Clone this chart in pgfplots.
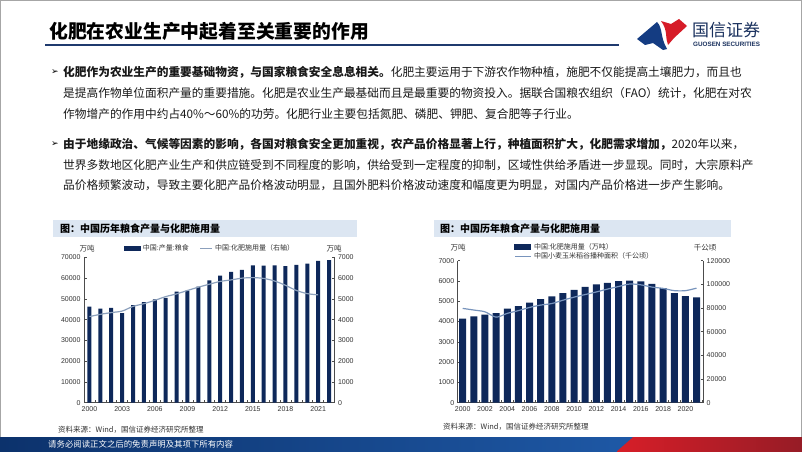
\documentclass[border=0pt]{standalone}
\usepackage{fontspec}
\usepackage{pgfplots}
\pgfplotsset{compat=1.18}
\setmainfont{Noto Sans CJK SC}
\newfontfamily\lib{Liberation Sans}
\newfontfamily\dejavu{DejaVu Sans}
\XeTeXlinebreaklocale "zh"
\XeTeXlinebreakskip=0pt plus 4pt
\definecolor{navy}{RGB}{14,40,90}
\definecolor{lineA}{RGB}{140,160,188}
\definecolor{lineB}{RGB}{120,148,188}
\definecolor{titlebox}{RGB}{220,230,242}
\definecolor{hdrline}{RGB}{31,58,110}
\definecolor{footA}{RGB}{12,50,108}
\definecolor{footB}{RGB}{30,88,165}
\definecolor{redA}{RGB}{215,30,40}
\definecolor{redB}{RGB}{150,28,38}
\definecolor{logored}{RGB}{214,28,40}
\definecolor{logoblue}{RGB}{20,60,130}
\definecolor{txt}{RGB}{25,25,25}
\definecolor{ticktxt}{RGB}{50,50,50}
\pgfplotsset{
  base/.style={
    scale only axis, anchor=south west,
    /pgf/number format/fixed,
    /pgf/number format/assume math mode=true,
    /pgf/number format/1000 sep={},
    scaled y ticks=false,
    tick label style={font=\lib\fontsize{7}{8}\selectfont, text=ticktxt},
    axis line style={-, draw=black!70, line width=0.5pt},
    tick style={draw=black!70, line width=0.5pt},
    tick align=inside, major tick length=2.5pt, minor tick length=2.5pt,
    clip=false,
  },
}
\newcommand\bodyline[3]{\node[anchor=west, inner sep=0, font=\fontsize{11.7}{13}\selectfont, text=txt] at (#1,#2) {#3};}
\begin{document}
\begin{tikzpicture}
\path[use as bounding box] (0,0) rectangle (802pt,451pt);
\fill[white] (0,0) rectangle (802pt,451pt);
\begin{scope}[x=1pt,y=-1pt,yshift=451pt]
\draw[black!35, line width=0.8pt] (0.4,0.4) rectangle (801.6,450.6);
% header
\node[anchor=west, inner sep=0, font=\fontsize{18.8}{20}\selectfont\bfseries, text=black] at (49,31) {化肥在农业生产中起着至关重要的作用};
\fill[hdrline] (45,44) rectangle (619,46.5);
% logo
\fill[logoblue] (637,39) -- (657,22) .. controls (663,28) and (660,37) .. (667,49) -- (663,50) -- (653,43) -- (645,45) -- cycle;
\fill[logored] (661,21) -- (671,24) -- (679,19) -- (687,26) -- (674,38) -- (668,45) .. controls (665,38) and (668,30) .. (661,21) -- cycle;
\node[anchor=west, inner sep=0, font=\fontsize{17}{18}\selectfont, text=hdrline!85!black] at (692,30.5) {国信证券};
\node[anchor=west, inner sep=0, font=\lib\bfseries\fontsize{6.3}{7}\selectfont, text=hdrline!85!black] at (693,44) {GUOSEN SECURITIES};
% bullets
\node[anchor=west, inner sep=0, font=\dejavu\fontsize{9}{10}\selectfont] at (51,72.5) {➢};
\bodyline{63}{72.5}{\hbox to 689pt{\textbf{化肥作为农业生产的重要基础物资，与国家粮食安全息息相关。}化肥主要运用于下游农作物种植，施肥不仅能提高土壤肥力，而且也}}
\bodyline{63}{93.3}{\hbox to 689pt{是提高作物单位面积产量的重要措施。化肥是农业生产最基础而且是最重要的物资投入。据联合国粮农组织（FAO）统计，化肥在对农}}
\bodyline{63}{114.2}{作物增产的作用中约占40\%～60\%的功劳。化肥行业主要包括氮肥、磷肥、钾肥、复合肥等子行业。}
\node[anchor=west, inner sep=0, font=\dejavu\fontsize{9}{10}\selectfont] at (51,144) {➢};
\bodyline{63}{144}{\hbox to 689pt{\textbf{由于地缘政治、气候等因素的影响，各国对粮食安全更加重视，农产品价格显著上行，种植面积扩大，化肥需求增加，}2020年以来，}}
\bodyline{63}{164.7}{\hbox to 689pt{世界多数地区化肥产业生产和供应链受到不同程度的影响，供给受到一定程度的抑制，区域性供给矛盾进一步显现。同时，大宗原料产}}
\bodyline{63}{185.3}{品价格频繁波动，导致主要化肥产品价格波动明显，且国外肥料价格波动速度和幅度更为明显，对国内产品价格进一步产生影响。}
% chart title boxes
\fill[titlebox] (53,220) rectangle (357,237);
\node[anchor=west, inner sep=0, font=\fontsize{10}{11}\selectfont\bfseries] at (60,228.5) {图：中国历年粮食产量与化肥施用量};
\fill[titlebox] (434,220) rectangle (731,237);
\node[anchor=west, inner sep=0, font=\fontsize{10}{11}\selectfont\bfseries] at (440,228.5) {图：中国历年粮食产量与化肥施用量};
% units
\node[inner sep=0, font=\fontsize{7.5}{8}\selectfont, text=ticktxt] at (87,249) {万吨};
\node[inner sep=0, font=\fontsize{7.5}{8}\selectfont, text=ticktxt] at (334,249) {万吨};
\node[inner sep=0, font=\fontsize{7.5}{8}\selectfont, text=ticktxt] at (458,248) {万吨};
\node[inner sep=0, font=\fontsize{7.5}{8}\selectfont, text=ticktxt] at (705,248) {千公顷};
% sources
\node[anchor=west, inner sep=0, font=\fontsize{7.5}{8}\selectfont, text=ticktxt] at (58,430) {资料来源：Wind，国信证券经济研究所整理};
\node[anchor=west, inner sep=0, font=\fontsize{7.5}{8}\selectfont, text=ticktxt] at (443,427) {资料来源：Wind，国信证券经济研究所整理};
% footer
\shade[left color=footA, right color=footB] (0,437) rectangle (633,451);
\shade[left color=redA, right color=redB] (617,437) rectangle (802,451);
\fill[footB] (610,437) -- (633,437) -- (617,451) -- (610,451) -- cycle;
\node[anchor=west, inner sep=0, font=\fontsize{8.4}{9}\selectfont, text=white] at (48,444) {请务必阅读正文之后的免责声明及其项下所有内容};
\end{scope}

% ---------- chart 1 ----------
\begin{axis}[base, at={(84pt,48.3pt)}, width=250.5pt, height=145.4pt,
  xmin=1999.5, xmax=2022.5, ymin=0, ymax=70000,
  axis x line*=bottom, axis y line*=left,
  ytick={0,10000,...,70000},
  xtick={2000,2003,...,2021},
  minor xtick={1999.5,2000.5,...,2022.5},
  major x tick style={draw=none},
  legend style={at={(0.503,1.059)}, anchor=center, legend columns=2, draw=none, fill=none,
    font=\fontsize{7}{8}\selectfont, text=ticktxt,
    /tikz/every even column/.append style={column sep=9pt}},
  ]
\addplot[ybar, bar width=4pt, fill=navy, draw=none,
  legend image code/.code={\fill[navy] (0pt,-2.5pt) rectangle (17pt,2.5pt);}]
coordinates {(2000,46218)(2001,45264)(2002,45706)(2003,43070)(2004,46947)(2005,48402)
(2006,49804)(2007,50414)(2008,53434)(2009,53941)(2010,55911)(2011,58849)(2012,61223)
(2013,63048)(2014,63965)(2015,66060)(2016,66044)(2017,66161)(2018,65789)(2019,66384)
(2020,66949)(2021,68285)(2022,68653)};
\addlegendentry{中国:产量:粮食}
\addlegendimage{legend image code/.code={\draw[lineA, line width=1.2pt] (0pt,0pt) -- (12pt,0pt);}}
\addlegendentry{中国:化肥施用量（右轴）}
\end{axis}
\begin{axis}[base, at={(84pt,48.3pt)}, width=250.5pt, height=145.4pt,
  xmin=1999.5, xmax=2022.5, ymin=0, ymax=7000,
  axis x line=none, axis y line*=right,
  ytick={0,1000,...,7000},
  ]
\addplot[smooth, lineA, line width=1.2pt] coordinates {(2000,4146)(2001,4254)(2002,4339)
(2003,4412)(2004,4637)(2005,4766)(2006,4928)(2007,5108)(2008,5239)(2009,5404)(2010,5562)
(2011,5704)(2012,5839)(2013,5912)(2014,5996)(2015,6023)(2016,5984)(2017,5859)(2018,5653)
(2019,5404)(2020,5251)(2021,5191)};
\end{axis}

% ---------- chart 2 ----------
\begin{axis}[base, at={(457.7pt,48.3pt)}, width=245.5pt, height=142pt,
  xmin=1999.55, xmax=2021.6, ymin=0, ymax=7000,
  axis x line*=bottom, axis y line*=left,
  ytick={0,1000,...,7000},
  xtick={2000,2002,...,2020},
  minor xtick={1999.5,2000.5,...,2021.5},
  major x tick style={draw=none},
  legend style={at={(0.218,1.145)}, anchor=north west, legend columns=1, draw=none, fill=none,
    font=\fontsize{7}{8}\selectfont, text=ticktxt,
    nodes={inner ysep=0.9pt}},
  legend cell align=left,
  ]
\addplot[ybar, bar width=7pt, fill=navy, draw=none,
  legend image code/.code={\fill[navy] (0pt,-2.8pt) rectangle (17pt,2.8pt);}]
coordinates {(2000,4146)(2001,4254)(2002,4339)
(2003,4412)(2004,4637)(2005,4766)(2006,4928)(2007,5108)(2008,5239)(2009,5404)(2010,5562)
(2011,5704)(2012,5839)(2013,5912)(2014,5996)(2015,6023)(2016,5984)(2017,5859)(2018,5653)
(2019,5404)(2020,5251)(2021,5191)};
\addlegendentry{中国:化肥施用量（万吨）}
\addlegendimage{legend image code/.code={\draw[lineB, line width=1.2pt] (1pt,0pt) -- (17pt,0pt);}}
\addlegendentry{中国小麦玉米稻谷播种面积（千公顷）}
\end{axis}
\begin{axis}[base, at={(457.7pt,48.3pt)}, width=245.5pt, height=142pt,
  xmin=1999.55, xmax=2021.6, ymin=0, ymax=120000,
  axis x line=none, axis y line*=right,
  ytick={0,20000,...,120000},
  ]
\addplot[smooth, lineB, line width=1.2pt] coordinates {(2000,79700)(2001,78300)(2002,76800)
(2003,72300)(2004,75500)(2005,77800)(2006,80500)(2007,82500)(2008,83800)(2009,86600)
(2010,89200)(2011,91400)(2012,93600)(2013,96000)(2014,98200)(2015,100300)(2016,99600)
(2017,97700)(2018,96600)(2019,94700)(2020,94700)(2021,96800)};
\end{axis}
\end{tikzpicture}
\end{document}
